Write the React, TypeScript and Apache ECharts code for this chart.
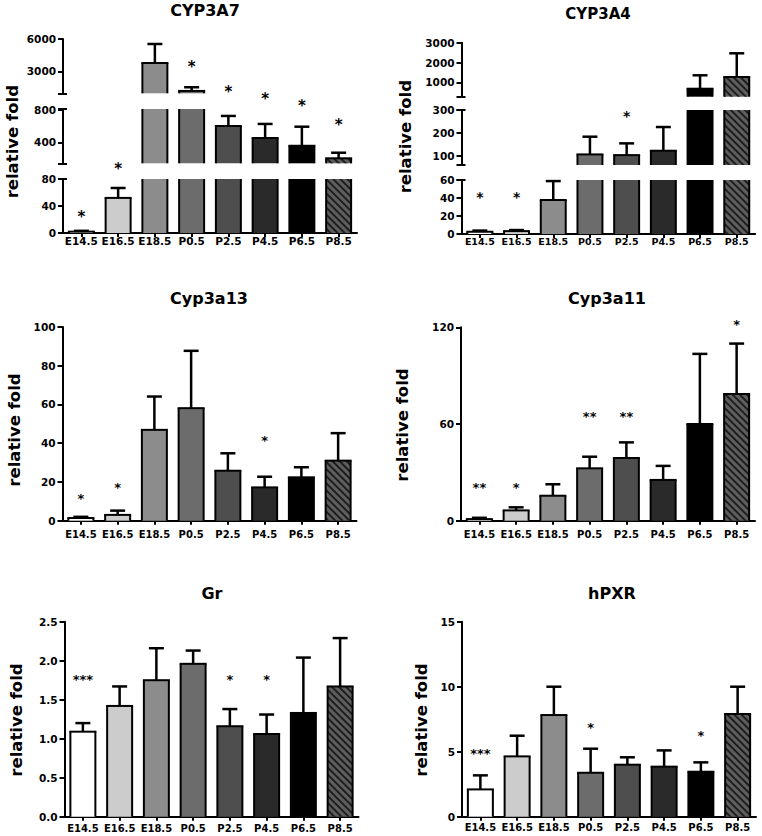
import React, { useEffect, useRef } from "react";
import * as echarts from "echarts";

// ---------------- data ----------------
const categories = ["E14.5", "E16.5", "E18.5", "P0.5", "P2.5", "P4.5", "P6.5", "P8.5"];
const barColors = ["#ffffff", "#cccccc", "#8c8c8c", "#6c6c6c", "#4e4e4e", "#2a2a2a", "#000000", "#5e5e5e"];
const hatched = [false, false, false, false, false, false, false, true];

const cyp3a7Mean = [2, 52, 3770, 1170, 602, 453, 357, 202];
const cyp3a7Err = [1.2, 14.7, 1766, 343, 124, 174, 236, 69];
// [category, axis segment (0 = bottom), value, text]
const cyp3a7Stars: [number, number, number, string][] = [
  [0, 0, 28.6, "*"], [1, 0, 100.7, "*"], [3, 2, 3768, "*"], [4, 2, 1443, "*"],
  [5, 1, 985, "*"], [6, 1, 899, "*"], [7, 1, 663, "*"],
];
const cyp3a7SegRanges: [number, number][] = [[0, 80], [140, 812], [950, 6000]];
const cyp3a7SegTicks = [[0, 40, 80], [400, 800], [3000, 6000]];

const cyp3a4Mean = [2.5, 3.2, 37.8, 107, 104, 123, 677, 1268];
const cyp3a4Err = [1.3, 1.2, 21, 77, 51, 103, 677, 1197];
const cyp3a4Stars: [number, number, number, string][] = [
  [0, 0, 45.5, "*"], [1, 0, 45.5, "*"], [4, 1, 291, "*"],
];
const cyp3a4SegRanges: [number, number][] = [[0, 60], [61, 300], [273, 3000]];
const cyp3a4SegTicks = [[0, 20, 40, 60], [100, 200, 300], [1000, 2000, 3000]];

const cyp3a13Mean = [1.4, 3.0, 46.9, 58.1, 25.8, 17.2, 22.4, 31.0];
const cyp3a13Err = [0.6, 2.2, 17.2, 29.6, 9.0, 5.5, 5.2, 14.2];
const cyp3a13Stars: [number, number, number, string][] = [
  [0, 0, 12.9, "*"], [1, 0, 19, "*"], [5, 0, 43.1, "*"],
];
const cyp3a13Ticks = [0, 20, 40, 60, 80, 100];

const cyp3a11Mean = [1.0, 6.4, 15.5, 32.5, 38.9, 25.3, 60.0, 78.6];
const cyp3a11Err = [0.8, 1.9, 7.1, 7.2, 9.7, 8.7, 43.5, 31.3];
const cyp3a11Stars: [number, number, number, string][] = [
  [0, 0, 22.8, "**"], [1, 0, 22.8, "*"], [3, 0, 66.6, "**"], [4, 0, 66.6, "**"], [7, 0, 124, "*"],
];
const cyp3a11Ticks = [0, 60, 120];

const grMean = [1.09, 1.42, 1.75, 1.96, 1.16, 1.06, 1.33, 1.67];
const grErr = [0.11, 0.25, 0.41, 0.17, 0.22, 0.25, 0.71, 0.62];
const grStars: [number, number, number, string][] = [
  [0, 0, 1.795, "***"], [4, 0, 1.795, "*"], [5, 0, 1.795, "*"],
];
const grTicks = [0, 0.5, 1.0, 1.5, 2.0, 2.5];

const hpxrMean = [2.1, 4.64, 7.82, 3.38, 4.0, 3.85, 3.46, 7.9];
const hpxrErr = [1.08, 1.59, 2.18, 1.85, 0.57, 1.25, 0.72, 2.1];
const hpxrStars: [number, number, number, string][] = [
  [0, 0, 5.08, "***"], [3, 0, 7.13, "*"], [6, 0, 6.46, "*"],
];
const hpxrTicks = [0, 5, 10, 15];

// ---------------- layout ----------------
const FONT = '"DejaVu Sans", sans-serif';
const BAR_RATIO = 0.68;

type Seg = { range: [number, number]; top: number; bottom: number; ticks: number[]; breaks: number[] };
type Panel = {
  title: string; mean: number[]; err: number[]; stars: [number, number, number, string][];
  left: number; width: number; segs: Seg[];
  titleX: number; titleY: number; titleSize: number;
  nameX: number; nameY: number;
  catSize: number; catMargin: number; starSize: number; decimals: number;
};

const panels: Panel[] = [
  {
    title: "CYP3A7", mean: cyp3a7Mean, err: cyp3a7Err, stars: cyp3a7Stars,
    left: 63, width: 294,
    segs: [
      { range: cyp3a7SegRanges[0], top: 179, bottom: 233, ticks: cyp3a7SegTicks[0], breaks: [cyp3a7SegRanges[0][1]] },
      { range: cyp3a7SegRanges[1], top: 109, bottom: 163.3, ticks: cyp3a7SegTicks[1], breaks: [cyp3a7SegRanges[1][0], cyp3a7SegRanges[1][1]] },
      { range: cyp3a7SegRanges[2], top: 39, bottom: 93.3, ticks: cyp3a7SegTicks[2], breaks: [cyp3a7SegRanges[2][0]] },
    ],
    titleX: 205, titleY: 10.5, titleSize: 16, nameX: 12.5, nameY: 141.7,
    catSize: 10.5, catMargin: 2.5, starSize: 15, decimals: 0,
  },
  {
    title: "CYP3A4", mean: cyp3a4Mean, err: cyp3a4Err, stars: cyp3a4Stars,
    left: 461.5, width: 293.6,
    segs: [
      { range: cyp3a4SegRanges[0], top: 180, bottom: 234, ticks: cyp3a4SegTicks[0], breaks: [cyp3a4SegRanges[0][1]] },
      { range: cyp3a4SegRanges[1], top: 110, bottom: 165, ticks: cyp3a4SegTicks[1], breaks: [cyp3a4SegRanges[1][0], cyp3a4SegRanges[1][1]] },
      { range: cyp3a4SegRanges[2], top: 42.7, bottom: 96.7, ticks: cyp3a4SegTicks[2], breaks: [cyp3a4SegRanges[2][0]] },
    ],
    titleX: 598, titleY: 14, titleSize: 15, nameX: 405, nameY: 136.7,
    catSize: 9.5, catMargin: 2, starSize: 14, decimals: 0,
  },
  {
    title: "Cyp3a13", mean: cyp3a13Mean, err: cyp3a13Err, stars: cyp3a13Stars,
    left: 62.5, width: 294,
    segs: [{ range: [0, 100], top: 327, bottom: 520.7, ticks: cyp3a13Ticks, breaks: [] }],
    titleX: 209, titleY: 298, titleSize: 16, nameX: 14, nameY: 430,
    catSize: 10, catMargin: 9, starSize: 13, decimals: 0,
  },
  {
    title: "Cyp3a11", mean: cyp3a11Mean, err: cyp3a11Err, stars: cyp3a11Stars,
    left: 461, width: 294,
    segs: [{ range: [0, 120], top: 327.3, bottom: 520.7, ticks: cyp3a11Ticks, breaks: [] }],
    titleX: 607, titleY: 298, titleSize: 16, nameX: 402, nameY: 425,
    catSize: 10, catMargin: 9, starSize: 13, decimals: 0,
  },
  {
    title: "Gr", mean: grMean, err: grErr, stars: grStars,
    left: 64.5, width: 294,
    segs: [{ range: [0, 2.5], top: 621.7, bottom: 816.7, ticks: grTicks, breaks: [] }],
    titleX: 212, titleY: 593, titleSize: 16, nameX: 16, nameY: 720,
    catSize: 10, catMargin: 7, starSize: 13, decimals: 1,
  },
  {
    title: "hPXR", mean: hpxrMean, err: hpxrErr, stars: hpxrStars,
    left: 462, width: 294,
    segs: [{ range: [0, 15], top: 621.7, bottom: 816.7, ticks: hpxrTicks, breaks: [] }],
    titleX: 612, titleY: 593, titleSize: 16, nameX: 421, nameY: 720,
    catSize: 10, catMargin: 6, starSize: 13, decimals: 0,
  },
];

const hatchDecal = {
  symbol: "rect",
  symbolSize: 1,
  color: "#1e1e1e",
  dashArrayX: [1, 0],
  dashArrayY: [1.6, 2.4],
  rotation: Math.PI / 4,
};

function buildOption() {
  const grid: any[] = [];
  const xAxis: any[] = [];
  const yAxis: any[] = [];
  const series: any[] = [];
  const graphic: any[] = [];
  let gi = 0;
  let yi = 0;

  panels.forEach((p) => {
    p.segs.forEach((s, k) => {
      const [lo, hi] = s.range;
      grid.push({ left: p.left, top: s.top, width: p.width, height: s.bottom - s.top });
      xAxis.push({
        type: "category",
        gridIndex: gi,
        data: categories,
        show: k === 0,
        axisLine: { show: true, lineStyle: { color: "#000", width: 2 } },
        axisTick: { show: true, alignWithLabel: true, length: 4, lineStyle: { color: "#000", width: 2 } },
        axisLabel: {
          interval: 0, color: "#000", fontFamily: FONT, fontWeight: "bold",
          fontSize: p.catSize, margin: p.catMargin,
        },
        splitLine: { show: false },
      });
      const mainY = yi;
      yAxis.push({
        type: "value",
        gridIndex: gi,
        position: "left",
        min: lo,
        max: hi,
        axisLine: { show: true, lineStyle: { color: "#000", width: 2 } },
        axisTick: {
          show: true, length: 5, customValues: [...s.ticks, ...s.breaks],
          lineStyle: { color: "#000", width: 2 },
        },
        axisLabel: {
          customValues: s.ticks, color: "#000", fontFamily: FONT, fontWeight: "bold",
          fontSize: 10.5, margin: 7,
          formatter: (v: number) => v.toFixed(p.decimals),
        },
        splitLine: { show: false },
        z: 5,
      });
      yi++;
      if (s.breaks.length) {
        yAxis.push({
          type: "value",
          gridIndex: gi,
          position: "left",
          min: lo,
          max: hi,
          axisLine: { show: false },
          axisTick: { show: true, inside: true, length: 4, customValues: s.breaks, lineStyle: { color: "#000", width: 2 } },
          axisLabel: { show: false },
          splitLine: { show: false },
        });
        yi++;
      }
      // filled bars (no border; outlines drawn below so breaks stay open)
      series.push({
        type: "bar",
        xAxisIndex: gi,
        yAxisIndex: mainY,
        barWidth: `${BAR_RATIO * 100}%`,
        clip: true,
        silent: true,
        itemStyle: { borderWidth: 0 },
        data: p.mean.map((v, i) => ({
          value: v,
          itemStyle: hatched[i]
            ? { color: barColors[i], decal: hatchDecal }
            : { color: barColors[i] },
        })),
        z: 2,
      });
      // bar outlines + upper error bars
      series.push({
        type: "custom",
        xAxisIndex: gi,
        yAxisIndex: mainY,
        silent: true,
        z: 3,
        data: p.mean.map((v, i) => [i, v, p.err[i]]),
        renderItem: (params: any, api: any) => {
          const i = api.value(0);
          const m = api.value(1);
          const e = api.value(2);
          const bw = api.size([1, 0])[0] * BAR_RATIO;
          const children: any[] = [];
          const line = (x1: number, y1: number, x2: number, y2: number, w: number) =>
            children.push({ type: "line", shape: { x1, y1, x2, y2 }, style: { stroke: "#000", lineWidth: w } });
          // outline sides
          const ba = Math.max(0, lo);
          const bb = Math.min(m, hi);
          if (bb > ba) {
            const q1 = api.coord([i, ba]);
            const q2 = api.coord([i, bb]);
            line(q1[0] - bw / 2, q1[1], q2[0] - bw / 2, q2[1], 2);
            line(q1[0] + bw / 2, q1[1], q2[0] + bw / 2, q2[1], 2);
          }
          if (m >= lo && m <= hi) {
            const q = api.coord([i, m]);
            line(q[0] - bw / 2 - 1, q[1], q[0] + bw / 2 + 1, q[1], 2);
          }
          // error bar
          const top = m + e;
          const a = Math.max(m, lo);
          const b = Math.min(top, hi);
          if (b > a) {
            const p1 = api.coord([i, a]);
            const p2 = api.coord([i, b]);
            line(p1[0], p1[1], p2[0], p2[1], 2.5);
          }
          if (top >= lo && top <= hi) {
            const pt = api.coord([i, top]);
            const half = bw * 0.3;
            line(pt[0] - half, pt[1], pt[0] + half, pt[1], 2.5);
          }
          return { type: "group", children };
        },
      });
      const segStars = p.stars.filter((st) => st[1] === k);
      if (segStars.length) {
        series.push({
          type: "custom",
          xAxisIndex: gi,
          yAxisIndex: mainY,
          silent: true,
          z: 4,
          data: segStars.map((st) => [st[0], st[2]]),
          renderItem: (params: any, api: any) => {
            const pt = api.coord([api.value(0), api.value(1)]);
            const txt = segStars[params.dataIndex][3];
            return {
              type: "text",
              x: pt[0],
              y: pt[1] + p.starSize * 0.25,
              style: {
                text: txt,
                font: `bold ${p.starSize}px ${FONT}`,
                fill: "#000",
                textAlign: "center",
                textVerticalAlign: "middle",
                align: "center",
                verticalAlign: "middle",
              },
            };
          },
        });
      }
      gi++;
    });

    graphic.push({
      type: "text",
      x: p.titleX,
      y: p.titleY,
      style: {
        text: p.title, font: `bold ${p.titleSize}px ${FONT}`, fill: "#000",
        textAlign: "center", textVerticalAlign: "middle", align: "center", verticalAlign: "middle",
      },
    });
    graphic.push({
      type: "text",
      x: p.nameX,
      y: p.nameY,
      rotation: Math.PI / 2,
      style: {
        text: "relative fold", font: `bold 16.5px ${FONT}`, fill: "#000",
        textAlign: "center", textVerticalAlign: "middle", align: "center", verticalAlign: "middle",
      },
    });
  });

  return {
    animation: false,
    backgroundColor: "#ffffff",
    textStyle: { fontFamily: FONT },
    grid,
    xAxis,
    yAxis,
    series,
    graphic,
  };
}

export default function App() {
  const ref = useRef<HTMLDivElement>(null);
  useEffect(() => {
    if (!ref.current) return;
    const chart = echarts.init(ref.current, undefined, { renderer: "svg" });
    chart.setOption(buildOption() as any);
    return () => chart.dispose();
  }, []);
  return (
    <div
      ref={ref}
      style={{ position: "absolute", left: 0, top: 0, width: 762, height: 836, background: "#fff" }}
    />
  );
}
